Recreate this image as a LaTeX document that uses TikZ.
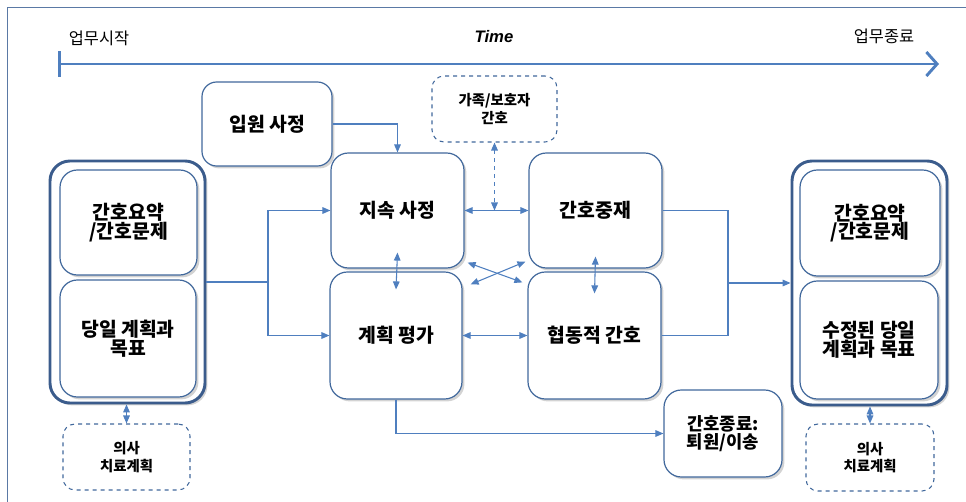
\documentclass[tikz,border=0pt]{standalone}
\usepackage{fontspec}
\setmainfont{Noto Sans CJK KR}
\newfontfamily\latinfont{Liberation Sans}
\usetikzlibrary{arrows.meta,shadows,calc}
\definecolor{boxblue}{HTML}{41689C}
\definecolor{linkblue}{HTML}{4F7FBF}
\definecolor{outerblue}{HTML}{3B5C8C}
\definecolor{frameblue}{HTML}{5A79A5}

\begin{document}
\begin{tikzpicture}[x=0.75pt, y=-0.75pt,
  box/.style={draw=boxblue, line width=0.9pt, fill=white, rounded corners=13pt, align=center, inner sep=0pt,
    font=\bfseries\fontsize{14.5}{14}\selectfont,
    drop shadow={shadow xshift=1.8pt, shadow yshift=-1.8pt, opacity=0.35}},
  outerbox/.style={box, draw=outerblue, line width=2.2pt, rounded corners=15pt},
  dashbox/.style={draw=boxblue, line width=0.8pt, dashed, fill=white, rounded corners=9pt, align=center, inner sep=0pt,
    font=\bfseries\fontsize{10.8}{13.3}\selectfont},
  link/.style={draw=linkblue, line width=0.8pt},
  arr/.style={link, -{Triangle[length=6pt,width=5pt]}},
  darr/.style={link, {Triangle[length=6pt,width=5pt]}-{Triangle[length=6pt,width=5pt]}},
  timeline/.style={draw=linkblue, line width=2.2pt, {Bar[width=19pt]}-{Straight Barb[length=8pt,width=18pt]}}]
  \useasboundingbox (0,0) rectangle (966,502);
  \draw[frameblue, line width=0.7pt] (7,502) -- (7,7) -- (966,7);

  \coordinate (tstart) at (58,64);
  \coordinate (tend) at (939,64);
  \draw[timeline] (tstart) -- (tend);
  \node[font=\fontsize{12.3}{13}\selectfont] (startlbl) at (99,38) {업무시작};
  \node[font=\latinfont\bfseries\itshape\fontsize{12.5}{14}\selectfont] (timelbl) at (494,37) {Time};
  \node[font=\fontsize{12.3}{13}\selectfont] (endlbl) at (884,36) {업무종료};

  \node[box, rounded corners=11pt, minimum width=97.5pt, minimum height=63pt] (ipwon) at (267,124) {입원 사정};
  \node[dashbox, minimum width=93.75pt, minimum height=49.5pt] (gajok) at (494.5,109) {가족/보호자\\간호};
  \node[box, minimum width=99.75pt, minimum height=86.25pt] (jisok) at (397.5,210.5) {지속 사정};
  \node[box, minimum width=99.75pt, minimum height=86.25pt] (jungjae) at (595.5,210.5) {간호중재};
  \node[box, minimum width=99pt, minimum height=95.25pt] (pyeongga) at (396,335.5) {계획 평가};
  \node[box, minimum width=99.75pt, minimum height=95.25pt] (hyeopdong) at (594.5,335.5) {협동적 간호};
  \node[box, font=\bfseries\fontsize{13.3}{13.7}\selectfont, minimum width=88.5pt, minimum height=65.25pt] (jongryo) at (723,433.5) {간호종료:\\퇴원/이송};

  \node[outerbox, minimum width=116.25pt, minimum height=181.5pt] (lout) at (127.5,282) {};
  \node[box, minimum width=102.75pt, minimum height=78.75pt] (lsum) at (128.5,222.5) {간호요약\\/간호문제};
  \node[box, minimum width=102pt, minimum height=87.75pt] (lplan) at (128,338.5) {당일 계획과\\목표};
  \node[dashbox, minimum width=95.25pt, minimum height=49.5pt] (ldoc) at (126.5,457) {의사\\치료계획};

  \node[outerbox, minimum width=116.25pt, minimum height=183pt] (rout) at (869.5,283) {};
  \node[box, minimum width=105pt, minimum height=79.5pt] (rsum) at (870,223) {간호요약\\/간호문제};
  \node[box, minimum width=103.5pt, minimum height=88.5pt] (rplan) at (869,340) {수정된 당일\\계획과 목표};
  \node[dashbox, minimum width=96pt, minimum height=50.25pt] (rdoc) at (870,457.5) {의사\\치료계획};

  \coordinate (lsplit) at (268,282);
  \coordinate (rsplit) at (728,283);
  \draw[link] (lout.east) -- (lsplit);
  \draw[arr] (lsplit) |- (jisok.west);
  \draw[arr] (lsplit) |- (pyeongga.west);
  \draw[arr] (ipwon.east) -| (jisok.north);
  \draw[darr] (jisok.east) -- (jungjae.west);
  \draw[darr, dashed] (gajok.south) -- (gajok.south |- jisok.east);
  \draw[darr] ($(jisok.south)+(0,-16)$) -- ($(pyeongga.north)+(0,18)$);
  \draw[darr] ($(jungjae.south)+(0,-12)$) -- ($(hyeopdong.north)+(0,22)$);
  \draw[darr] ($(jisok.south east)+(3,-6)$) -- ($(hyeopdong.north west)+(-5,11)$);
  \draw[darr] ($(pyeongga.north east)+(8,13)$) -- ($(jungjae.south west)+(-3,-7)$);
  \draw[darr] (pyeongga.east) -- (hyeopdong.west);
  \draw[link] (jungjae.east) -| (rsplit);
  \draw[link] (hyeopdong.east) -| (rsplit);
  \draw[arr] (rsplit) -- (rout.west);
  \draw[arr] (pyeongga.south) |- (jongryo.west);
  \draw[darr, dashed] (ldoc.north) -- (ldoc.north |- lout.south);
  \draw[darr, dashed] (rdoc.north) -- (rdoc.north |- rout.south);
\end{tikzpicture}
\end{document}
